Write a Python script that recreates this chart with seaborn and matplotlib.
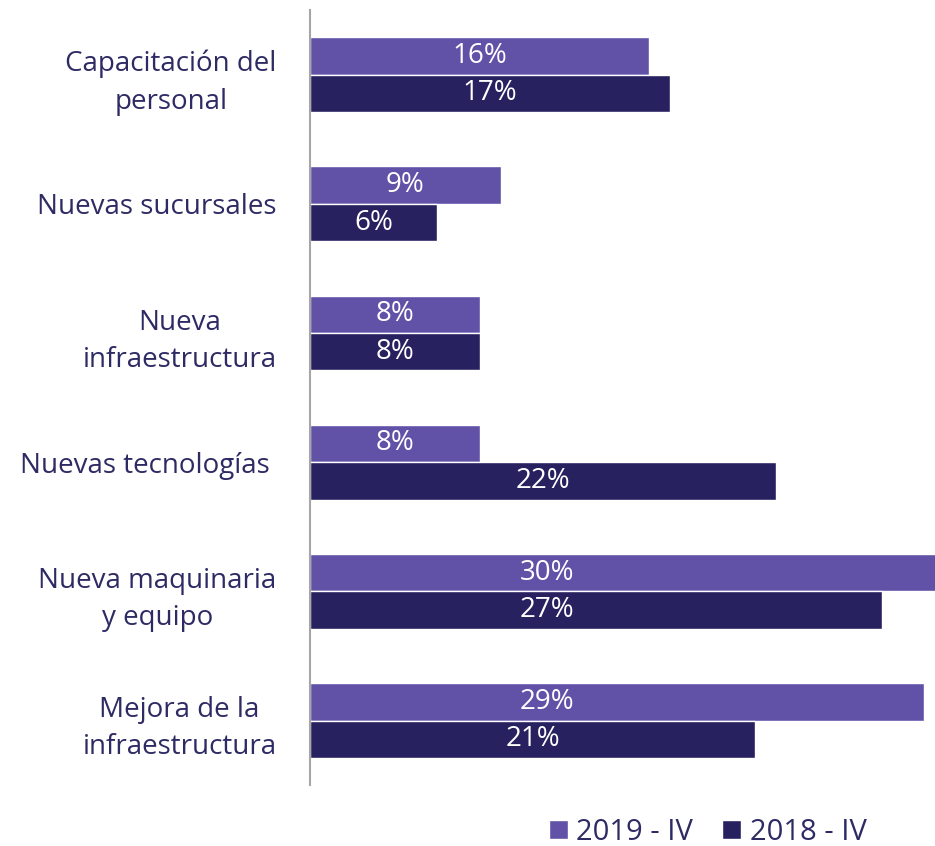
import matplotlib.pyplot as plt
import seaborn as sns
import pandas as pd

categorias = ["Capacitación del\npersonal", "Nuevas sucursales", "Nueva\ninfraestructura",
              "Nuevas tecnologías ", "Nueva maquinaria\ny equipo", "Mejora de la\ninfraestructura"]
v2019 = [16, 9, 8, 8, 30, 29]
v2018 = [17, 6, 8, 22, 27, 21]
series = ["2019 - IV", "2018 - IV"]
colores = ["#6152A8", "#28215F"]
texto = "#2E2B64"

df = pd.DataFrame({
    "categoria": categorias * 2,
    "valor": v2019 + v2018,
    "serie": [series[0]] * len(categorias) + [series[1]] * len(categorias),
})

sns.set_style("white")
plt.rcParams["font.family"] = ["Open Sans", "DejaVu Sans"]

fig = plt.figure(figsize=(9.35, 8.46), dpi=100)
ax = fig.add_axes([0.3316, 0.072, 0.6684, 0.916])

sns.barplot(data=df, x="valor", y="categoria", hue="serie", hue_order=series,
            palette=colores, orient="h", width=0.58, saturation=1, ax=ax)

# etiquetas de valor (blancas, dentro de la barra)
for cont in ax.containers:
    for rect in cont:
        v = rect.get_width()
        ax.text(min(v / 2, 11.2), rect.get_y() + rect.get_height() / 2, f"{v:.0f}%",
                color="white", fontsize=20, ha="center", va="center")

ax.set_xlim(0, 29.5)
ax.set_ylim(5.5, -0.5)
ax.set_xlabel("")
ax.set_ylabel("")
ax.set_xticks([])
ax.tick_params(axis="y", length=0, pad=24, labelsize=20, labelcolor=texto)
for lab in ax.get_yticklabels():
    lab.set_multialignment("center")
    lab.set_linespacing(1.45)

for s in ["top", "right", "bottom"]:
    ax.spines[s].set_visible(False)
ax.spines["left"].set_color("#A6A6A6")
ax.spines["left"].set_linewidth(1.5)

ax.get_legend().remove()
h, l = ax.get_legend_handles_labels()
fig.legend(h, l, loc="center", bbox_to_anchor=(0.757, 0.016), ncol=2, frameon=False,
           fontsize=21, labelcolor=texto, handlelength=0.65, handleheight=0.65,
           handletextpad=0.3, columnspacing=1.0, borderpad=0)

fig.savefig("out.png", dpi=100)
